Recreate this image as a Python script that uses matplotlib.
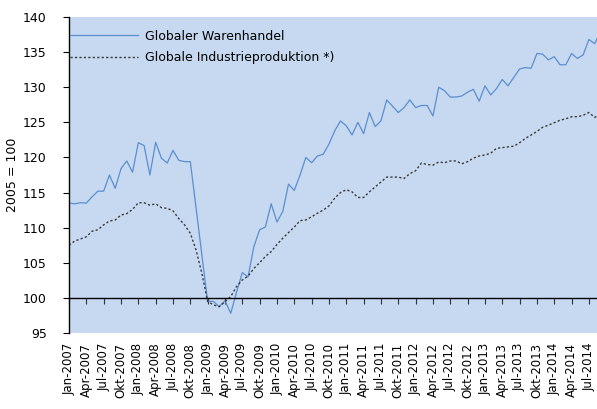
import numpy as np
import matplotlib
matplotlib.use("Agg")
from matplotlib import pyplot as plt

# Monatswerte Jan-2007 .. Sep-2014 (2005 = 100)
monate = ["Jan", "Feb", "Mrz", "Apr", "Mai", "Jun", "Jul", "Aug", "Sep", "Okt", "Nov", "Dez"]
jahre = list(range(2007, 2015))

warenhandel = [
    113.5, 113.4, 113.55, 113.5, 114.4, 115.2, 115.2, 117.5, 115.6, 118.4, 119.5, 117.9,
    122.1, 121.7, 117.5, 122.15, 119.9, 119.2, 121.0, 119.6, 119.4, 119.4, 112.8, 106.1,
    99.5, 99.5, 98.75, 99.6, 97.8, 100.8, 103.6, 103.0, 107.3, 109.7, 110.1, 113.4,
    110.8, 112.3, 116.2, 115.3, 117.5, 120.0, 119.25, 120.2, 120.45, 121.9, 123.8, 125.2,
    124.5, 123.2, 125.0, 123.4, 126.4, 124.4, 125.2, 128.2, 127.3, 126.4, 127.1, 128.2,
    127.1, 127.4, 127.4, 125.9, 130.0, 129.5, 128.6, 128.6, 128.75, 129.3, 129.7, 128.0,
    130.2, 128.9, 129.8, 131.1, 130.2, 131.4, 132.6, 132.8, 132.7, 134.8, 134.7, 133.9,
    134.35, 133.2, 133.2, 134.8, 134.1, 134.6, 136.8, 136.2, 138.0,
]

industrie = [
    107.5, 108.1, 108.4, 108.7, 109.5, 109.7, 110.4, 110.95, 111.1, 111.8, 112.0, 112.6,
    113.55, 113.55, 113.2, 113.4, 112.85, 112.75, 112.4, 111.3, 110.4, 109.2, 106.8, 103.5,
    99.5, 99.0, 98.75, 99.45, 100.2, 101.6, 102.55, 103.1, 104.2, 105.0, 105.9, 106.6,
    107.6, 108.5, 109.3, 110.1, 111.0, 111.1, 111.55, 112.05, 112.5, 113.1, 114.2, 115.0,
    115.4, 115.1, 114.3, 114.3, 115.1, 115.8, 116.5, 117.2, 117.2, 117.2, 117.0, 117.7,
    118.1, 119.2, 119.0, 118.9, 119.35, 119.25, 119.5, 119.5, 119.1, 119.4, 119.9, 120.2,
    120.35, 120.6, 121.3, 121.4, 121.5, 121.6, 122.1, 122.7, 123.2, 123.7, 124.3, 124.6,
    124.95, 125.3, 125.5, 125.8, 125.8, 126.0, 126.4, 125.7, 126.2,
]

labels = [m + "-" + str(j) for j in jahre for m in monate][:len(warenhandel)]
x = np.arange(len(warenhandel))

fig = plt.figure(figsize=(5.97, 4.09), dpi=100)
ax = fig.add_axes([69 / 597, 1 - 333 / 409, 1 - 69 / 597, 316 / 409])
ax.set_facecolor("#C6D9F0")

ax.plot(x, warenhandel, color="#5B8ED0", lw=0.9, label="Globaler Warenhandel")
ax.plot(x, industrie, color="#3A3A3A", lw=1.0, ls=(0, (1.6, 1.6)),
        label="Globale Industrieproduktion *)")

ax.set_ylim(95, 140)
ax.set_yticks(np.arange(95, 141, 5))
ax.set_xlim(0, 91.4)
ax.set_ylabel("2005 = 100", fontsize=9, labelpad=3)

for s in ["top", "right"]:
    ax.spines[s].set_visible(False)
ax.spines["left"].set_linewidth(1)
ax.spines["bottom"].set_position(("data", 100))
ax.spines["bottom"].set_linewidth(1)

tick_pos = x[::3]
ax.set_xticks(tick_pos)
ax.tick_params(axis="x", direction="out", length=4, labelbottom=False, color="#333333")
ax.tick_params(axis="y", direction="out", length=4, labelsize=9, pad=12)

sec = ax.secondary_xaxis("bottom")
sec.set_xticks(tick_pos)
sec.set_xticklabels([labels[i] for i in tick_pos], rotation=90, fontsize=8.5)
sec.tick_params(length=0, pad=7)
sec.spines["bottom"].set_visible(False)

ax.legend(loc="upper left", bbox_to_anchor=(0.0, 1 - 11.5 / 316), frameon=False,
          fontsize=9, handlelength=5.4, borderaxespad=0, borderpad=0.1,
          handletextpad=0.6, labelspacing=0.7)

fig.savefig("out.png", dpi=100)
